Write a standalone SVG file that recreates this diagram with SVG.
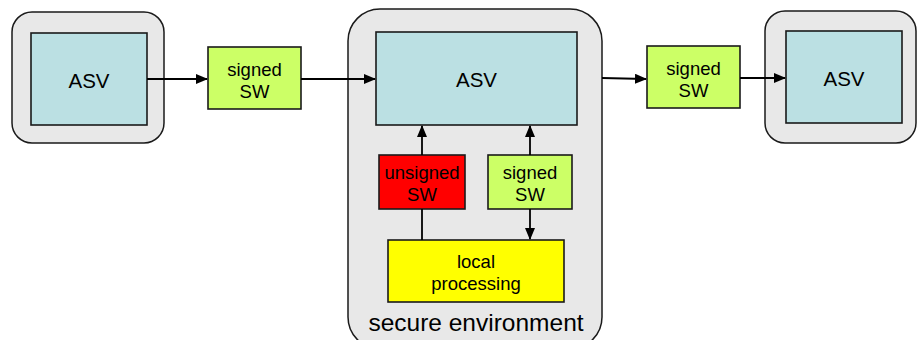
<svg xmlns="http://www.w3.org/2000/svg" width="917" height="340" viewBox="0 0 917 340">
<defs>
<marker id="ah" markerWidth="12" markerHeight="10" refX="11" refY="5" orient="auto" markerUnits="userSpaceOnUse">
<path d="M0,0 L12,5 L0,10 Z" fill="#000"/>
</marker>
<style>
.env{fill:#e8e8e8;stroke:#1a1a1a;stroke-width:1.5}
.box{stroke:#1a1a1a;stroke-width:1.6}
.asv{fill:#bbe0e3}
.grn{fill:#ccff66}
.red{fill:#ff0000}
.yel{fill:#ffff00}
text{font-family:"Liberation Sans",Arial,sans-serif;font-size:18.5px;fill:#000;text-anchor:middle}
.big{font-size:20.5px}
.lbl{font-size:24.5px}
.c{stroke:#000;stroke-width:1.8;fill:none}
</style>
</defs>
<rect width="917" height="340" fill="#fff"/>
<g id="left-env">
<rect class="env" x="12" y="12" width="152" height="131" rx="20"/>
</g>
<g id="left-asv">
<rect class="box asv" x="31" y="33" width="116" height="92"/>
<text class="big" x="89" y="88">ASV</text>
</g>
<g id="left-signed-sw">
<rect class="box grn" x="208" y="47" width="93" height="62"/>
<text x="254.5" y="76">signed</text>
<text x="254.5" y="98">SW</text>
</g>
<g id="secure-env">
<rect class="env" x="348" y="9" width="254" height="340" rx="32"/>
<text class="lbl" x="476" y="331">secure environment</text>
</g>
<g id="center-asv">
<rect class="box asv" x="376" y="32" width="201" height="93"/>
<text class="big" x="476.5" y="87">ASV</text>
</g>
<g id="unsigned-sw">
<rect class="box red" x="379" y="155" width="86" height="54"/>
<text x="422" y="179">unsigned</text>
<text x="422" y="201">SW</text>
</g>
<g id="center-signed-sw">
<rect class="box grn" x="488" y="155" width="84" height="54"/>
<text x="530" y="179">signed</text>
<text x="530" y="201">SW</text>
</g>
<g id="local-processing">
<rect class="box yel" x="388" y="240" width="176" height="62"/>
<text x="476" y="268">local</text>
<text x="476" y="290">processing</text>
</g>
<g id="right-signed-sw">
<rect class="box grn" x="647" y="46" width="93" height="62"/>
<text x="693.5" y="75">signed</text>
<text x="693.5" y="97">SW</text>
</g>
<g id="right-env">
<rect class="env" x="765" y="11" width="151" height="132" rx="20"/>
</g>
<g id="right-asv">
<rect class="box asv" x="786" y="31" width="116" height="92"/>
<text class="big" x="844" y="86">ASV</text>
</g>
<g id="connectors">
<line class="c" x1="147" y1="79" x2="207" y2="79" marker-end="url(#ah)"/>
<line class="c" x1="301" y1="79" x2="375" y2="79" marker-end="url(#ah)"/>
<line class="c" x1="602" y1="78" x2="646" y2="79" marker-end="url(#ah)"/>
<line class="c" x1="740" y1="78" x2="785" y2="78" marker-end="url(#ah)"/>
<line class="c" x1="422" y1="155" x2="422" y2="126" marker-end="url(#ah)"/>
<line class="c" x1="422" y1="240" x2="422" y2="209"/>
<line class="c" x1="530" y1="155" x2="530" y2="126" marker-end="url(#ah)"/>
<line class="c" x1="530" y1="209" x2="530" y2="239" marker-end="url(#ah)"/>
</g>
</svg>
